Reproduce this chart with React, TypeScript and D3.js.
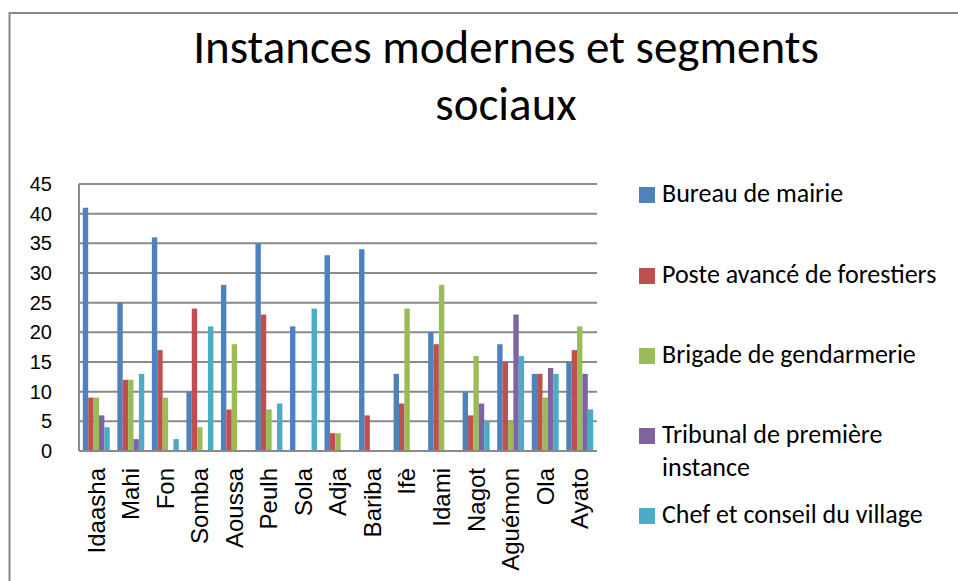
import * as d3 from 'd3';
import React from 'react';

const categories = ['Idaasha', 'Mahi', 'Fon', 'Somba', 'Aoussa', 'Peulh', 'Sola', 'Adja', 'Bariba', 'Ifè', 'Idami', 'Nagot', 'Aguémon', 'Ola', 'Ayato'];
const seriesNames = ['Bureau de mairie', 'Poste avancé de forestiers', 'Brigade de gendarmerie', 'Tribunal de première instance', 'Chef et conseil du village'];
const seriesColors = ['#4F81BD', '#C0504D', '#9BBB59', '#8064A2', '#4BACC6'];

const bureau = [41, 25, 36, 10, 28, 35, 21, 33, 34, 13, 20, 10, 18, 13, 15];
const poste = [9, 12, 17, 24, 7, 23, 0, 3, 6, 8, 18, 6, 15, 13, 17];
const brigade = [9, 12, 9, 4, 18, 7, 0, 3, 0, 24, 28, 16, 5, 9, 21];
const tribunal = [6, 2, 0, 0, 0, 0, 0, 0, 0, 0, 0, 8, 23, 14, 13];
const chef = [4, 13, 2, 21, 0, 8, 24, 0, 0, 0, 0, 5, 16, 13, 7];
const yTicks = [0, 5, 10, 15, 20, 25, 30, 35, 40, 45];

const allSeries = [bureau, poste, brigade, tribunal, chef];
const legendLines = [['Bureau de mairie'], ['Poste avancé de forestiers'], ['Brigade de gendarmerie'], ['Tribunal de première', 'instance'], ['Chef et conseil du village']];

const W = 958, H = 581;
const plot = { left: 79, right: 597, top: 184, bottom: 451 };
const bodyFont = 'Carlito, Lato, sans-serif';

export default function App() {
  const x0 = d3.scaleBand().domain(categories).range([plot.left, plot.right]).paddingInner(0.22).paddingOuter(0.11);
  const x1 = d3.scaleBand().domain(seriesNames).range([0, x0.bandwidth()]);
  const y = d3.scaleLinear().domain([0, 45]).range([plot.bottom, plot.top]);

  const legendY = [202, 283, 363, 443, 523];

  return (
    <div style={{ position: 'absolute', left: 0, top: 0 }}>
      <svg width={W} height={H} style={{ display: 'block', background: '#fff' }}>
        <rect x={9.5} y={13} width={W + 10} height={H + 10} fill="none" stroke="#888" strokeWidth={2} />
        <text x={506} y={63} textAnchor="middle" fontFamily={bodyFont} fontSize={47} fill="#000">Instances modernes et segments</text>
        <text x={506} y={120} textAnchor="middle" fontFamily={bodyFont} fontSize={47} fill="#000">sociaux</text>

        {yTicks.map(t => (
          <g key={t}>
            <line x1={plot.left} x2={plot.right} y1={y(t)} y2={y(t)} stroke="#8a8a8a" strokeWidth={2} />
            <text x={52} y={y(t)} dy="0.35em" textAnchor="end" fontFamily="Liberation Sans, Arial, sans-serif" fontSize={20} fill="#000">{t}</text>
          </g>
        ))}
        <line x1={plot.left} x2={plot.left} y1={plot.top} y2={plot.bottom} stroke="#8a8a8a" strokeWidth={2} />

        {categories.map((c, i) => (
          <g key={c} transform={`translate(${x0(c)},0)`}>
            {allSeries.map((s, j) => s[i] > 0 ? (
              <rect key={j} x={x1(seriesNames[j])} y={y(s[i])} width={x1.bandwidth()} height={y(0) - y(s[i])} fill={seriesColors[j]} />
            ) : null)}
          </g>
        ))}
        <line x1={plot.left} x2={plot.right} y1={plot.bottom} y2={plot.bottom} stroke="#8a8a8a" strokeWidth={2} />

        {categories.map(c => (
          <text key={c} transform={`translate(${(x0(c) as number) + x0.bandwidth() / 2},468) rotate(-90)`} dy="0.35em" textAnchor="end" fontFamily="Liberation Sans, Arial, sans-serif" fontSize={24} fill="#000">{c}</text>
        ))}

        {legendLines.map((lines, i) => (
          <g key={i}>
            <rect x={639} y={legendY[i] - 15} width={16} height={16} fill={seriesColors[i]} />
            {lines.map((l, k) => (
              <text key={k} x={662} y={legendY[i] + k * 33} fontFamily={bodyFont} fontSize={26} fill="#000">{l}</text>
            ))}
          </g>
        ))}
      </svg>
    </div>
  );
}
